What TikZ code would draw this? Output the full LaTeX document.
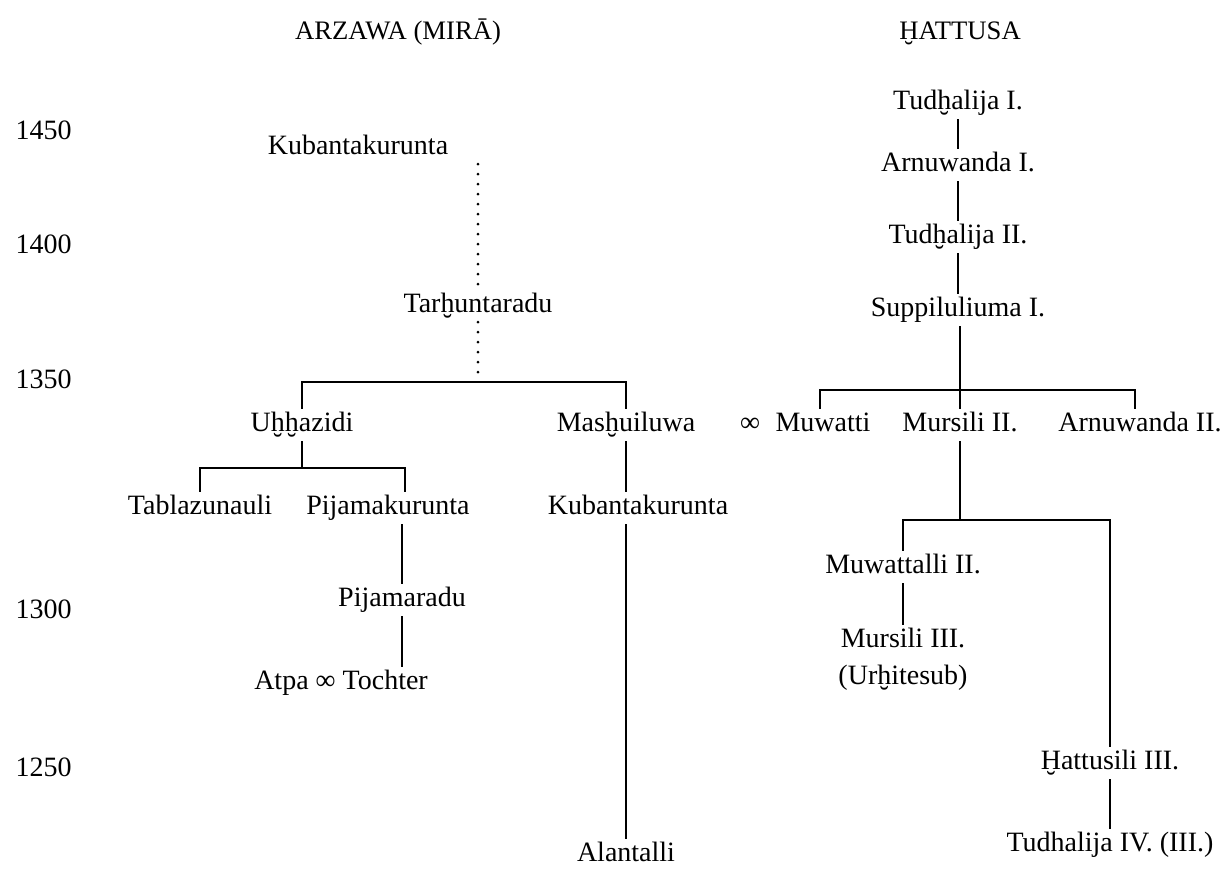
\documentclass[tikz,border=0pt]{standalone}
\usepackage{fontspec}
\setmainfont{Liberation Serif}
\newcommand{\hbr}{\ooalign{h\cr\hidewidth\smash{\raisebox{-0.74em}{\char"02D8}}\hidewidth\cr}}
\newcommand{\Hbr}{\ooalign{H\cr\hidewidth\smash{\raisebox{-0.74em}{\char"02D8}}\hidewidth\cr}}
\begin{document}
\begin{tikzpicture}[x=0.75pt,y=-0.75pt,
  every node/.style={font=\fontsize{21}{24}\selectfont, inner sep=2.5pt, text height=14.5pt, text depth=4.3pt},
  lk/.style={line width=1.9pt},
  dots/.style={line width=2.3pt, line cap=round, dash pattern=on 0pt off 7.5pt}]
\useasboundingbox (0,0) rectangle (1232,868);
% headers
\node[font=\fontsize{20}{24}\selectfont] (arz) at (398,33) {ARZAWA (MIRĀ)};
\node[font=\fontsize{20}{24}\selectfont] (hat) at (960,33) {\Hbr ATTUSA};
% years
\node[anchor=west] (y1450) at (12,133) {1450};
\node[anchor=west] (y1400) at (12,247) {1400};
\node[anchor=west] (y1350) at (12,382) {1350};
\node[anchor=west] (y1300) at (12,612) {1300};
\node[anchor=west] (y1250) at (12,770) {1250};
% Arzawa
\node (kub1) at (358,148) {Kubantakurunta};
\node (tar) at (478,306) {Tar\hbr untaradu};
\coordinate (brA) at (478,382);
\node (uhh) at (302,425) {U\hbr\hbr azidi};
\node (mas) at (626,425) {Mas\hbr uiluwa};
\node (inf1) at (750,425) {∞};
\node (muw) at (823,425) {Muwatti};
\coordinate (brB) at (302,468);
\node (tab) at (200,508) {Tablazunauli};
\node (pijk) at (388,508) {Pijamakurunta};
\coordinate (pkTop) at (405,468);
\node (kub2) at (638,508) {Kubantakurunta};
\node (pijr) at (402,600) {Pijamaradu};
\node (atpa) at (341,683) {Atpa ∞ Tochter};
\node (alan) at (626,855) {Alantalli};
\draw[dots] (kub1.south -| tar.north) -- (tar.north);
\draw[dots] (tar.south) -- (brA);
\draw[lk] (uhh.north) -- (uhh.north |- brA) -- (mas.north |- brA) -- (mas.north);
\draw[lk] (uhh.south) -- (brB);
\draw[lk] (tab.north) -- (tab.north |- brB) -- (pkTop) -- (pkTop |- pijk.north);
\draw[lk] (mas.south) -- (mas.south |- kub2.north);
\draw[lk] (pijk.south -| pijr.north) -- (pijr.north);
\draw[lk] (pijr.south) -- (pijr.south |- atpa.north);
\draw[lk] (mas.south |- kub2.south) -- (mas.south |- alan.north);
% Hattusa
\node (tud1) at (958,103) {Tud\hbr alija I.};
\node (arn1) at (958,165) {Arnuwanda I.};
\node (tud2) at (958,237) {Tud\hbr alija II.};
\node (sup) at (958,310) {Suppiluliuma I.};
\node (mur2) at (960,425) {Mursili II.};
\node (arn2) at (1140,425) {Arnuwanda II.};
\coordinate (brC) at (960,390);
\coordinate (muwTop) at (820,390);
\coordinate (arnTop) at (1135,390);
\node (muw2) at (903,567) {Muwattalli II.};
\node (mur3) at (903,641) {Mursili III.};
\node (urh) at (903,678) {(Ur\hbr itesub)};
\node (hat3) at (1110,763) {\Hbr attusili III.};
\node (tud4) at (1110,845) {Tudhalija IV. (III.)};
\coordinate (brD) at (960,520);
\draw[lk] (tud1.south) -- (arn1.north);
\draw[lk] (arn1.south) -- (tud2.north);
\draw[lk] (tud2.south) -- (sup.north);
\draw[lk] (sup.south -| mur2.north) -- (mur2.north);
\draw[lk] (muwTop |- muw.north) -- (muwTop) -- (arnTop) -- (arnTop |- arn2.north);
\draw[lk] (mur2.south) -- (brD);
\draw[lk] (muw2.north) -- (muw2.north |- brD) -- (hat3.north |- brD) -- (hat3.north);
\draw[lk] (muw2.south) -- (mur3.north);
\draw[lk] (hat3.south) -- (tud4.north);
\end{tikzpicture}
\end{document}
